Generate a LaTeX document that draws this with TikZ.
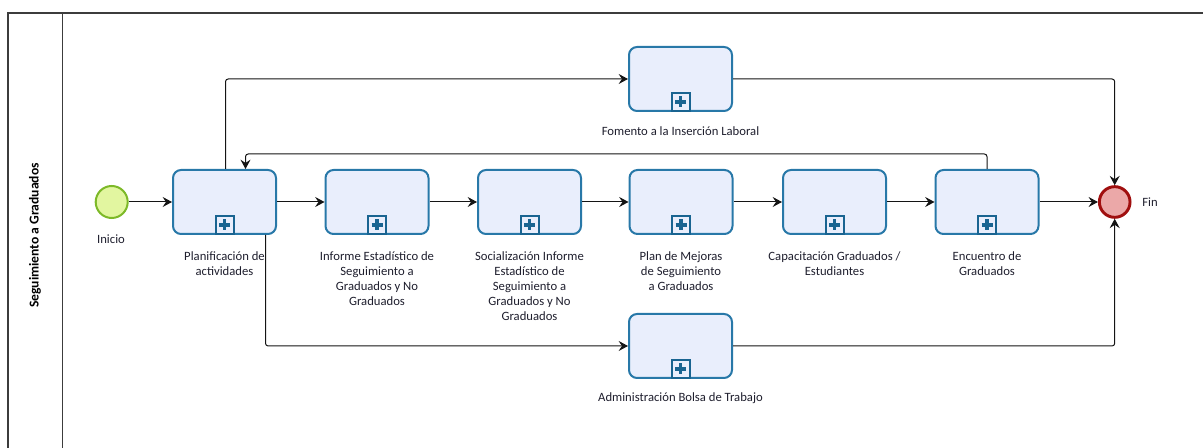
\documentclass[tikz,border=0pt]{standalone}
\usepackage{fontspec}
\setmainfont{Carlito}
\usetikzlibrary{arrows.meta}

\begin{document}
\begin{tikzpicture}[x=0.75pt,y=0.75pt,yscale=-1,xscale=1,
	task/.style={draw={rgb, 255:red, 40; green, 120; blue, 168 },fill={rgb, 255:red, 233; green, 238; blue, 252 },line width=1.5pt,rounded corners=6pt,minimum width=77.25pt,minimum height=48pt,inner sep=0pt},
	lbl/.style={font=\fontsize{9.5}{11.25}\selectfont,text={rgb, 255:red, 30; green, 30; blue, 45 },align=center,inner sep=0pt},
	flow/.style={draw={rgb, 255:red, 20; green, 20; blue, 20 },line width=0.75pt,-{Stealth[length=7pt,width=7.5pt,inset=2.5pt]}},
	marker/.style={draw={rgb, 255:red, 25; green, 100; blue, 145 },fill={rgb, 255:red, 233; green, 238; blue, 252 },line width=1.5pt}]
	\path[use as bounding box] (0,0) rectangle (1203,448);

	% Pool
	\draw [color={rgb, 255:red, 60; green, 60; blue, 60 },line width=1.1pt] (8,448) -- (8,13) -- (1203,13) ;
	\draw [color={rgb, 255:red, 60; green, 60; blue, 60 },line width=1.1pt] (62.5,13) -- (62.5,448) ;
	% Text Node
	\node [rotate=90,font=\fontsize{10.2}{12}\selectfont\bfseries] (lane) at (35,235.5) {Seguimiento a Graduados};

	% Start and end
	\node [circle,draw={rgb, 255:red, 125; green, 185; blue, 40 },fill={rgb, 255:red, 226; green, 246; blue, 160 },line width=1.5pt,minimum size=24pt,inner sep=0pt] (ini) at (111.7,202) {};
	\node [circle,draw={rgb, 255:red, 160; green, 15; blue, 15 },fill={rgb, 255:red, 235; green, 168; blue, 168 },line width=2.2pt,minimum size=23pt,inner sep=0pt] (fin) at (1114.7,202) {};

	% Tasks
	\node [task] (plan) at (224.5,202) {};
	\node [task] (inf) at (377,202) {};
	\node [task] (soc) at (529.5,202) {};
	\node [task] (mej) at (681,202) {};
	\node [task] (cap) at (834.5,202) {};
	\node [task] (enc) at (987,202) {};
	\node [task] (fom) at (680.5,79) {};
	\node [task] (adm) at (680.5,346) {};

	% Subprocess markers
	\foreach \n in {plan,inf,soc,mej,cap,enc,fom,adm}{
		\draw [marker] ([shift={(-9,-1)}]\n.south) rectangle ([shift={(9,-19)}]\n.south) ;
		\draw [color={rgb, 255:red, 25; green, 100; blue, 145 },line width=2.6pt] ([shift={(-5.5,-10)}]\n.south) -- ([shift={(5.5,-10)}]\n.south) ;
		\draw [color={rgb, 255:red, 25; green, 100; blue, 145 },line width=2.6pt] ([shift={(0,-15.5)}]\n.south) -- ([shift={(0,-4.5)}]\n.south) ;
	}

	% Text Node
	\node [lbl] (inil) at (111,239) {Inicio};
	\node [lbl,anchor=east] (finl) at (1158,202) {Fin};
	\node [lbl,anchor=north] (planl) at (224.5,251) {Planificación de\\actividades};
	\node [lbl,anchor=north] (infl) at (377,251) {Informe Estadístico de\\Seguimiento a\\Graduados y No\\Graduados};
	\node [lbl,anchor=north] (socl) at (529.5,251) {Socialización Informe\\Estadístico de\\Seguimiento a\\Graduados y No\\Graduados};
	\node [lbl,anchor=north] (mejl) at (681,251) {Plan de Mejoras\\de Seguimiento\\a Graduados};
	\node [lbl,anchor=north] (capl) at (834.5,251) {Capacitación Graduados /\\Estudiantes};
	\node [lbl,anchor=north] (encl) at (987,251) {Encuentro de\\Graduados};
	\node [lbl] (foml) at (680.5,131) {Fomento a la Inserción Laboral};
	\node [lbl] (adml) at (680.5,398) {Administración Bolsa de Trabajo};

	% Connection
	\draw [flow] (ini) -- (plan) ;
	\draw [flow] (plan) -- (inf) ;
	\draw [flow] (inf) -- (soc) ;
	\draw [flow] (soc) -- (mej) ;
	\draw [flow] (mej) -- (cap) ;
	\draw [flow] (cap) -- (enc) ;
	\draw [flow] (enc) -- (fin) ;
	% Connection
	\draw [flow,rounded corners=2pt] ([shift={(1,0)}]plan.north) |- (fom.west) ;
	\draw [flow,rounded corners=2pt] (fom.east) -| (fin.north) ;
	\draw [flow,rounded corners=2pt] ([shift={(41,0)}]plan.south) |- (adm.west) ;
	\draw [flow,rounded corners=2pt] (adm.east) -| (fin.south) ;
	\draw [flow,rounded corners=2pt] (enc.north) -- ++(0,-15) -| ([shift={(21,0)}]plan.north) ;

\end{tikzpicture}
\end{document}
